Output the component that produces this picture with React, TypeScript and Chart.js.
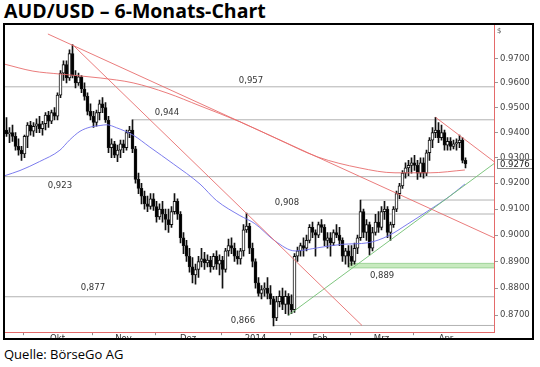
import React, { useEffect, useRef } from 'react';
import { Chart, registerables } from 'chart.js';

Chart.register(...registerables);

// ---- daily candles (index 0 = 23.09.2013, last = 24.04.2014) ----
const opens = [
  0.9410, 0.9395, 0.9400, 0.9385, 0.9345, 0.9330, 0.9315, 0.9385, 0.9430, 0.9405,
  0.9425, 0.9435, 0.9415, 0.9435, 0.9470, 0.9445, 0.9480, 0.9465, 0.9550, 0.9640,
  0.9675, 0.9620, 0.9720, 0.9630, 0.9600, 0.9625, 0.9575, 0.9545, 0.9485, 0.9465,
  0.9440, 0.9480, 0.9515, 0.9500, 0.9450, 0.9340, 0.9355, 0.9310, 0.9330, 0.9355,
  0.9340, 0.9400, 0.9410, 0.9335, 0.9215, 0.9180, 0.9150, 0.9120, 0.9110, 0.9140,
  0.9110, 0.9070, 0.9100, 0.9080, 0.9060, 0.9040, 0.9090, 0.9130, 0.9080, 0.8990,
  0.8960, 0.8920, 0.8880, 0.8850, 0.8870, 0.8900, 0.8910, 0.8895, 0.8905, 0.8880,
  0.8920, 0.8890, 0.8905, 0.8870, 0.8940, 0.8960, 0.8950, 0.8920, 0.8910, 0.8940,
  0.9020, 0.9035, 0.8950, 0.8900, 0.8820, 0.8780, 0.8795, 0.8800, 0.8780, 0.8760,
  0.8690, 0.8750, 0.8770, 0.8740, 0.8770, 0.8740, 0.8720, 0.8920, 0.8940, 0.8960,
  0.8950, 0.8980, 0.9030, 0.9010, 0.9000, 0.9040, 0.9030, 0.8980, 0.8990, 0.8970,
  0.9010, 0.9000, 0.8980, 0.8920, 0.8940, 0.8920, 0.8900, 0.8950, 0.8990, 0.9090,
  0.9010, 0.9040, 0.8950, 0.9010, 0.9050, 0.9030, 0.9090, 0.9100, 0.9010, 0.9040,
  0.9100, 0.9160, 0.9190, 0.9240, 0.9260, 0.9270, 0.9280, 0.9270, 0.9240, 0.9280,
  0.9240, 0.9320, 0.9370, 0.9400, 0.9410, 0.9380, 0.9400, 0.9350, 0.9365, 0.9345,
  0.9355, 0.9360, 0.9370, 0.9290,
];
const highs = [
  0.9460, 0.9420, 0.9430, 0.9400, 0.9375, 0.9345, 0.9390, 0.9440, 0.9445, 0.9440,
  0.9455, 0.9465, 0.9445, 0.9480, 0.9485, 0.9490, 0.9500, 0.9560, 0.9650, 0.9690,
  0.9690, 0.9735, 0.9757, 0.9650, 0.9640, 0.9630, 0.9600, 0.9560, 0.9515, 0.9485,
  0.9490, 0.9530, 0.9540, 0.9520, 0.9465, 0.9375, 0.9365, 0.9350, 0.9370, 0.9370,
  0.9410, 0.9425, 0.9451, 0.9345, 0.9240, 0.9200, 0.9170, 0.9150, 0.9160, 0.9160,
  0.9130, 0.9120, 0.9130, 0.9100, 0.9100, 0.9110, 0.9160, 0.9140, 0.9090, 0.9010,
  0.8980, 0.8950, 0.8915, 0.8890, 0.8920, 0.8950, 0.8935, 0.8925, 0.8920, 0.8930,
  0.8940, 0.8925, 0.8920, 0.8950, 0.8985, 0.8990, 0.8970, 0.8940, 0.8950, 0.9040,
  0.9085, 0.9045, 0.8970, 0.8910, 0.8840, 0.8810, 0.8820, 0.8840, 0.8810, 0.8770,
  0.8770, 0.8790, 0.8800, 0.8790, 0.8780, 0.8775, 0.8930, 0.8955, 0.8970, 0.8990,
  0.9000, 0.9040, 0.9050, 0.9020, 0.9050, 0.9060, 0.9040, 0.9010, 0.9010, 0.9020,
  0.9040, 0.9030, 0.8990, 0.8950, 0.8960, 0.8960, 0.8970, 0.9000, 0.9135, 0.9100,
  0.9060, 0.9050, 0.9030, 0.9080, 0.9090, 0.9110, 0.9130, 0.9110, 0.9050, 0.9110,
  0.9170, 0.9200, 0.9250, 0.9280, 0.9290, 0.9300, 0.9310, 0.9290, 0.9300, 0.9300,
  0.9330, 0.9380, 0.9420, 0.9461, 0.9440, 0.9430, 0.9410, 0.9380, 0.9380, 0.9370,
  0.9375, 0.9390, 0.9380, 0.9300,
];
const lows = [
  0.9385, 0.9360, 0.9365, 0.9330, 0.9310, 0.9290, 0.9300, 0.9340, 0.9390, 0.9385,
  0.9400, 0.9400, 0.9390, 0.9410, 0.9420, 0.9435, 0.9450, 0.9450, 0.9540, 0.9610,
  0.9600, 0.9610, 0.9620, 0.9580, 0.9590, 0.9560, 0.9530, 0.9470, 0.9450, 0.9420,
  0.9425, 0.9450, 0.9480, 0.9440, 0.9320, 0.9300, 0.9300, 0.9285, 0.9300, 0.9320,
  0.9330, 0.9380, 0.9320, 0.9200, 0.9160, 0.9120, 0.9100, 0.9090, 0.9100, 0.9095,
  0.9050, 0.9060, 0.9050, 0.9020, 0.9010, 0.9030, 0.9080, 0.9060, 0.8970, 0.8930,
  0.8900, 0.8860, 0.8820, 0.8815, 0.8840, 0.8880, 0.8870, 0.8880, 0.8860, 0.8870,
  0.8870, 0.8850, 0.8800, 0.8860, 0.8920, 0.8930, 0.8900, 0.8890, 0.8890, 0.8920,
  0.9010, 0.8930, 0.8880, 0.8800, 0.8770, 0.8760, 0.8770, 0.8760, 0.8740, 0.8660,
  0.8680, 0.8730, 0.8720, 0.8705, 0.8700, 0.8705, 0.8710, 0.8900, 0.8920, 0.8920,
  0.8940, 0.8970, 0.8990, 0.8920, 0.8990, 0.9010, 0.8960, 0.8950, 0.8920, 0.8960,
  0.8990, 0.8960, 0.8900, 0.8890, 0.8880, 0.8885, 0.8890, 0.8930, 0.8980, 0.8990,
  0.8980, 0.8925, 0.8940, 0.9000, 0.9010, 0.9020, 0.9060, 0.8990, 0.8980, 0.9030,
  0.9090, 0.9140, 0.9180, 0.9220, 0.9230, 0.9240, 0.9250, 0.9215, 0.9225, 0.9220,
  0.9230, 0.9290, 0.9340, 0.9380, 0.9360, 0.9370, 0.9330, 0.9330, 0.9330, 0.9335,
  0.9330, 0.9340, 0.9280, 0.9260,
];
const closes = [
  0.9395, 0.9400, 0.9385, 0.9345, 0.9330, 0.9315, 0.9385, 0.9430, 0.9405, 0.9425,
  0.9435, 0.9415, 0.9435, 0.9470, 0.9445, 0.9480, 0.9465, 0.9550, 0.9640, 0.9675,
  0.9620, 0.9720, 0.9630, 0.9600, 0.9625, 0.9575, 0.9545, 0.9485, 0.9465, 0.9440,
  0.9480, 0.9515, 0.9500, 0.9450, 0.9340, 0.9355, 0.9310, 0.9330, 0.9355, 0.9340,
  0.9400, 0.9410, 0.9335, 0.9215, 0.9180, 0.9150, 0.9120, 0.9110, 0.9140, 0.9110,
  0.9070, 0.9100, 0.9080, 0.9060, 0.9040, 0.9090, 0.9130, 0.9080, 0.8990, 0.8960,
  0.8920, 0.8880, 0.8850, 0.8870, 0.8900, 0.8910, 0.8895, 0.8905, 0.8880, 0.8920,
  0.8890, 0.8905, 0.8870, 0.8940, 0.8960, 0.8950, 0.8920, 0.8910, 0.8940, 0.9020,
  0.9035, 0.8950, 0.8900, 0.8820, 0.8780, 0.8795, 0.8800, 0.8780, 0.8760, 0.8690,
  0.8750, 0.8770, 0.8740, 0.8770, 0.8740, 0.8720, 0.8920, 0.8940, 0.8960, 0.8950,
  0.8980, 0.9030, 0.9010, 0.9000, 0.9040, 0.9030, 0.8980, 0.8990, 0.8970, 0.9010,
  0.9000, 0.8980, 0.8920, 0.8940, 0.8920, 0.8900, 0.8950, 0.8990, 0.9090, 0.9010,
  0.9040, 0.8950, 0.9010, 0.9050, 0.9030, 0.9090, 0.9100, 0.9010, 0.9040, 0.9100,
  0.9160, 0.9190, 0.9240, 0.9260, 0.9270, 0.9280, 0.9270, 0.9240, 0.9280, 0.9240,
  0.9320, 0.9370, 0.9400, 0.9410, 0.9380, 0.9400, 0.9350, 0.9365, 0.9345, 0.9355,
  0.9360, 0.9370, 0.9290, 0.9276,
];

// ---- axes ----
const monthBounds = [6, 29, 50, 72, 95, 115, 136, 158]; // first bar index of each month
const monthLabels = ['Okt', 'Nov', 'Dez', '2014', 'Feb', 'Mrz', 'Apr'];
const priceTicks = [0.87, 0.88, 0.89, 0.9, 0.91, 0.92, 0.93, 0.94, 0.95, 0.96, 0.97];
const priceMin = 0.86373;
const priceMax = 0.98384;

// ---- horizontal levels ----
const levelPrices = [0.9584, 0.9451, 0.9226, 0.9135, 0.9081, 0.8768, 0.8662];
const levelStarts = [-0.5, 42, -0.5, 118, 80, -0.5, 89];
const supportBand = [0.8876, 0.8893];
const supportBandStart = 114;
const levelTexts = ['0,957', '0,944', '0,923', '0,908', '0,889', '0,877', '0,866'];
const levelTextIdx = [81.5, 53.5, 17.8, 93.5, 125.2, 28.8, 78.8];
const levelTextPrices = [0.9607, 0.9481, 0.9191, 0.9125, 0.8846, 0.88, 0.8678];

// ---- moving averages ----
const maShortIdx = [-0.5, 4.5, 11, 17.8, 21, 24.5, 28, 31.2, 33.4, 36.7, 42.3, 47.8, 55.6, 64.5, 70, 77.8, 82.8, 89.5, 96.2, 103.8, 111.8, 120.5, 127.2, 133.8, 140.5, 147.2, 152.8];
const maShortVals = [0.923, 0.925, 0.9285, 0.933, 0.937, 0.9405, 0.9422, 0.9428, 0.9431, 0.9419, 0.9389, 0.9342, 0.9276, 0.9197, 0.9133, 0.9075, 0.9044, 0.8978, 0.894, 0.8952, 0.8965, 0.8971, 0.8997, 0.9043, 0.9093, 0.9145, 0.9197];
const maLongIdx = [-0.5, 8.8, 17.8, 31.2, 42.2, 53.5, 64.5, 77.8, 90.2, 103.8, 117.8, 129.5, 141.2, 152.8];
const maLongVals = [0.9676, 0.9648, 0.9636, 0.962, 0.96, 0.9559, 0.9507, 0.9443, 0.9375, 0.9303, 0.926, 0.9241, 0.9241, 0.9252];

// ---- trend lines: [startIdx, startPrice, endIdx, endPrice] ----
const downTrendLong = [13.8, 0.9801, 162.5, 0.899];
const downTrendSteep = [22, 0.9757, 118.5, 0.8662];
const downTrendShort = [143, 0.9461, 162.5, 0.9285];
const upTrend = [94, 0.87, 162.5, 0.9277];

const X_MIN = -0.5;
const X_MAX = 162.5;

const seg = (t: number[]) => [
  { x: t[0], y: t[1] },
  { x: t[2], y: t[3] },
];

export default function App() {
  const ref = useRef<HTMLCanvasElement>(null);

  useEffect(() => {
    document.body.style.margin = '0';
    const canvas = ref.current!;
    const idx = closes.map((_, i) => i);
    const wickData = idx.map((i) => ({ x: i, y: [lows[i], highs[i]] }));
    const bodyData = idx.map((i) => ({
      x: i,
      y: [Math.min(opens[i], closes[i]), Math.max(opens[i], closes[i])],
    }));
    const bodyFill = idx.map((i) => (closes[i] >= opens[i] ? '#ffffff' : '#000000'));

    const boundTicks = monthBounds.slice(0, monthLabels.length).map((b) => b - 0.5);
    const labelTicks = monthLabels.map((_, i) => (monthBounds[i] + monthBounds[i + 1]) / 2 - 0.5);

    const gray = '#b2b2b2';
    const red = 'rgba(232,110,110,0.9)';

    const levelSets: any[] = levelPrices.map((p, i) => ({
      type: 'line',
      data: [
        { x: levelStarts[i], y: p },
        { x: X_MAX, y: p },
      ],
      borderColor: gray,
      borderWidth: 1,
      pointRadius: 0,
      order: 9,
    }));

    const lastPrice = closes[closes.length - 1];

    const annot = {
      id: 'annot',
      afterDatasetsDraw(chart: any) {
        const { ctx, scales } = chart;
        const x = scales.x;
        const y = scales.y;
        ctx.save();
        ctx.font = '8.5px "DejaVu Sans"';
        ctx.fillStyle = '#333';
        ctx.textAlign = 'center';
        ctx.textBaseline = 'middle';
        levelTexts.forEach((t, i) => {
          ctx.fillText(t, x.getPixelForValue(levelTextIdx[i]), y.getPixelForValue(levelTextPrices[i]));
        });
        ctx.restore();
      },
      afterDraw(chart: any) {
        const { ctx, scales, chartArea } = chart;
        const y = scales.y;
        ctx.save();
        // last price box
        const py = Math.round(y.getPixelForValue(lastPrice));
        ctx.fillStyle = '#ffffff';
        ctx.fillRect(chartArea.right + 3, py - 4.5, 36, 9);
        ctx.strokeStyle = '#8a8a8a';
        ctx.lineWidth = 1;
        ctx.strokeRect(chartArea.right + 3.5, py - 4.5, 36, 9);
        ctx.fillStyle = '#222';
        ctx.font = '8.5px "DejaVu Sans"';
        ctx.textAlign = 'left';
        ctx.textBaseline = 'middle';
        ctx.fillText(lastPrice.toFixed(4), chartArea.right + 6, py + 0.5);
        // currency sign
        ctx.font = '7px "DejaVu Sans"';
        ctx.fillStyle = '#555';
        ctx.fillText('$', chartArea.right + 3, chartArea.top + 6);
        // frame
        ctx.strokeStyle = '#000';
        ctx.lineWidth = 2;
        ctx.strokeRect(4, 24, 529, 315);
        ctx.restore();
      },
    };

    const chart = new Chart(canvas, {
      type: 'line',
      data: {
        datasets: [
          ...levelSets,
          {
            type: 'line',
            data: [
              { x: supportBandStart, y: supportBand[0] },
              { x: X_MAX, y: supportBand[0] },
            ],
            borderColor: '#9fd49a',
            borderWidth: 1,
            pointRadius: 0,
            order: 8,
          },
          {
            type: 'line',
            data: [
              { x: supportBandStart, y: supportBand[1] },
              { x: X_MAX, y: supportBand[1] },
            ],
            borderColor: '#9fd49a',
            borderWidth: 1,
            pointRadius: 0,
            fill: '-1',
            backgroundColor: 'rgba(190,230,180,0.85)',
            order: 8,
          },
          {
            type: 'bar',
            data: wickData,
            backgroundColor: '#111',
            borderWidth: 0,
            barThickness: 1,
            grouped: false,
            order: 5,
          },
          {
            type: 'bar',
            data: bodyData,
            backgroundColor: bodyFill,
            borderColor: '#111',
            borderWidth: 1,
            borderSkipped: false,
            barThickness: 3,
            grouped: false,
            order: 4,
          },
          {
            type: 'line',
            data: maShortIdx.map((v, i) => ({ x: v, y: maShortVals[i] })),
            borderColor: 'rgba(110,110,235,0.9)',
            borderWidth: 1,
            pointRadius: 0,
            cubicInterpolationMode: 'monotone',
            order: 3,
          },
          {
            type: 'line',
            data: maLongIdx.map((v, i) => ({ x: v, y: maLongVals[i] })),
            borderColor: red,
            borderWidth: 1,
            pointRadius: 0,
            cubicInterpolationMode: 'monotone',
            order: 3,
          },
          { type: 'line', data: seg(downTrendLong), borderColor: red, borderWidth: 1, pointRadius: 0, order: 2 },
          { type: 'line', data: seg(downTrendSteep), borderColor: red, borderWidth: 1, pointRadius: 0, order: 2 },
          { type: 'line', data: seg(downTrendShort), borderColor: red, borderWidth: 1, pointRadius: 0, order: 2 },
          { type: 'line', data: seg(upTrend), borderColor: 'rgba(120,195,120,0.95)', borderWidth: 1, pointRadius: 0, order: 2 },
        ] as any,
      },
      options: {
        responsive: false,
        animation: false,
        events: [],
        devicePixelRatio: 1,
        layout: { padding: { top: 25, left: 5, right: 6, bottom: 0 }, autoPadding: false } as any,
        plugins: { legend: { display: false }, tooltip: { enabled: false }, title: { display: false } },
        scales: {
          x: {
            type: 'linear',
            min: X_MIN,
            max: X_MAX,
            offset: false,
            afterBuildTicks: (s: any) => {
              s.ticks = [...boundTicks, ...labelTicks].map((v) => ({ value: v }));
            },
            afterFit: (s: any) => {
              s.height = 7.8;
            },
            ticks: {
              autoSkip: false,
              maxRotation: 0,
              padding: -2,
              font: { family: 'DejaVu Sans', size: 8.5 },
              color: '#333',
              callback: (v: any) => {
                const k = labelTicks.indexOf(Number(v));
                return k >= 0 ? monthLabels[k] : '';
              },
            },
            grid: {
              drawOnChartArea: false,
              offset: false,
              tickLength: 3,
              tickColor: (c: any) =>
                c.tick && labelTicks.indexOf(c.tick.value) >= 0 ? 'rgba(0,0,0,0)' : '#8a8a8a',
            },
            border: { color: '#e46a6a', width: 1 },
          },
          y: {
            type: 'logarithmic',
            position: 'right',
            bounds: 'data',
            min: priceMin,
            max: priceMax,
            afterBuildTicks: (s: any) => {
              s.ticks = priceTicks.map((v) => ({ value: v }));
              s.min = priceMin;
              s.max = priceMax;
            },
            afterFit: (s: any) => {
              s.width = 40;
            },
            ticks: {
              padding: 2,
              font: { family: 'DejaVu Sans', size: 8.5 },
              color: '#444',
              callback: (v: any) => Number(v).toFixed(4),
            },
            grid: { drawOnChartArea: false, tickLength: 4, tickColor: '#999' },
            border: { color: '#e46a6a', width: 1 },
          },
        },
      } as any,
      plugins: [annot],
    });

    return () => chart.destroy();
  }, []);

  return (
    <div style={{ position: 'relative', width: 540, height: 367, background: '#fff', overflow: 'hidden' }}>
      <div
        style={{
          position: 'absolute',
          left: 4,
          top: -3,
          font: 'bold 19.5px "Open Sans"',
          color: '#000',
          whiteSpace: 'nowrap',
        }}
      >
        AUD/USD – 6-Monats-Chart
      </div>
      <canvas
        ref={ref}
        width={540}
        height={340}
        style={{ position: 'absolute', left: 0, top: 0, width: 540, height: 340 }}
      />
      <div
        style={{
          position: 'absolute',
          left: 4,
          top: 345,
          font: '13px "Open Sans"',
          color: '#000',
          whiteSpace: 'nowrap',
        }}
      >
        Quelle: BörseGo AG
      </div>
    </div>
  );
}
